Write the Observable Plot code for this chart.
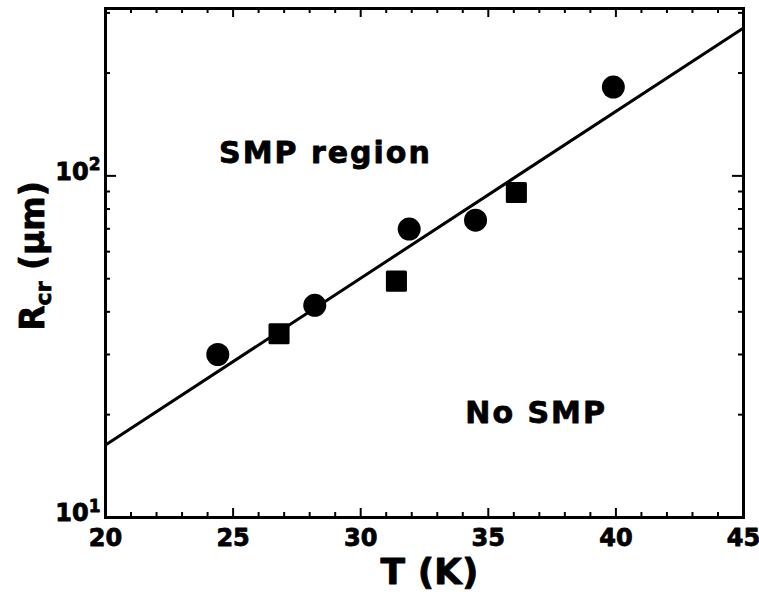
<!DOCTYPE html>
<html>
<head>
<meta charset="utf-8">
<script src="https://cdn.jsdelivr.net/npm/d3@7"></script>
<script src="https://cdn.jsdelivr.net/npm/@observablehq/plot@0.6"></script>
<style>
  html, body { margin: 0; padding: 0; background: white; }
</style>
</head>
<body>
<div id="chart"></div>
<script>
// ---- data ----
const circleT = [24.4, 28.2, 31.9, 34.5, 39.9];
const circleR = [30.0, 41.8, 69.9, 74.2, 182];
const squareT = [26.8, 31.4, 36.1];
const squareR = [34.5, 49.2, 89.4];
const fitT = [20, 45];
const fitR = [16.3, 271];
const xMajor = [20, 25, 30, 35, 40, 45];
const xMinor = [21, 22, 23, 24, 26, 27, 28, 29, 31, 32, 33, 34, 36, 37, 38, 39, 41, 42, 43, 44];
const yMajor = [10, 100];
const yBase = "10";
const yExponent = ["1", "2"];
const yMinor = [20, 30, 40, 50, 60, 70, 80, 90, 200, 300];
const noteText = ["SMP region", "No SMP"];
const noteT = [24.45, 34.1];
const noteR = [116, 20.2];
const xTitle = "T (K)";

// ---- tables ----
const circles = circleT.map((t, i) => ({T: t, R: circleR[i]}));
const squares = squareT.map((t, i) => ({T: t, R: squareR[i]}));
const fit = fitT.map((t, i) => ({T: t, R: fitR[i]}));
const notes = noteText.map((s, i) => ({label: s, T: noteT[i], R: noteR[i]}));

const W = 759, H = 594, mT = 8, mB = 77, mL = 105, mR = 16;
const fh = H - mT - mB, fw = W - mL - mR;
const font = "DejaVu Sans";

const chart = Plot.plot({
  width: W, height: H,
  marginTop: mT, marginBottom: mB, marginLeft: mL, marginRight: mR,
  style: {fontFamily: font, fontWeight: "bold", fontSize: "24px", color: "black", background: "white"},
  x: {domain: [20, 45], label: null},
  y: {type: "log", domain: [10, 309], label: null},
  marks: [
    // inward ticks on all four sides
    Plot.tickX(xMajor, {x: d => d, insetTop: fh - 9, strokeWidth: 2}),
    Plot.tickX(xMajor, {x: d => d, insetBottom: fh - 9, strokeWidth: 2}),
    Plot.tickX(xMinor, {x: d => d, insetTop: fh - 5, strokeWidth: 2}),
    Plot.tickX(xMinor, {x: d => d, insetBottom: fh - 5, strokeWidth: 2}),
    Plot.tickY(yMajor, {y: d => d, insetRight: fw - 11, strokeWidth: 2}),
    Plot.tickY(yMajor, {y: d => d, insetLeft: fw - 11, strokeWidth: 2}),
    Plot.tickY(yMinor, {y: d => d, insetRight: fw - 5, strokeWidth: 2}),
    Plot.tickY(yMinor, {y: d => d, insetLeft: fw - 5, strokeWidth: 2}),
    // tick labels
    Plot.axisX(xMajor, {anchor: "bottom", tickSize: 0, tickPadding: 11, label: null, fontSize: 24}),
    Plot.axisY(yMajor, {anchor: "left", tickSize: 0, tickPadding: 5, dy: -4, label: null, fontSize: 24,
      tickFormat: d => yBase + "^" + yExponent[yMajor.indexOf(d)]}),
    // x title
    Plot.text([xTitle], {frameAnchor: "bottom", dy: 66, dx: 5, lineAnchor: "bottom", fontSize: 36}),
    // fit line and data
    Plot.line(fit, {x: "T", y: "R", stroke: "black", strokeWidth: 3}),
    Plot.dot(circles, {x: "T", y: "R", r: 11.5, fill: "black"}),
    Plot.dot(squares, {x: "T", y: "R", symbol: "square", r: 10.2, fill: "black", stroke: "black", strokeWidth: 3, strokeLinejoin: "round"}),
    // region notes
    Plot.text(notes, {x: "T", y: "R", text: "label", textAnchor: "start", lineAnchor: "middle", fontSize: 30}),
    Plot.frame({stroke: "black", strokeWidth: 3})
  ]
});

const svg = d3.select(chart);

// y tick labels: 10 with a real superscript exponent
svg.selectAll("text").filter(function () { return this.textContent.startsWith(yBase + "^"); })
  .each(function () {
    const exp = this.textContent.split("^")[1];
    const t = d3.select(this);
    t.text(yBase);
    t.append("tspan").attr("font-size", 17).attr("dy", "-0.55em").text(exp);
  });

svg.selectAll("text").filter(function () { return noteText.includes(this.textContent); })
  .attr("letter-spacing", 2);

// y-axis title with subscript
const yt = svg.append("text")
  .attr("transform", "translate(44,256) rotate(-90)")
  .attr("text-anchor", "middle")
  .attr("font-family", font)
  .attr("font-weight", "bold")
  .attr("font-size", 33)
  .attr("fill", "black");
yt.append("tspan").text("R");
yt.append("tspan").attr("font-size", 22).attr("dy", 7).text("cr");
yt.append("tspan").attr("dy", -7).text(" (μm)");

// heavier ink, as in the printed figure
svg.selectAll("text").attr("stroke", "black").attr("stroke-width", 0.8).attr("stroke-linejoin", "round");

document.getElementById("chart").appendChild(chart);
</script>
</body>
</html>
